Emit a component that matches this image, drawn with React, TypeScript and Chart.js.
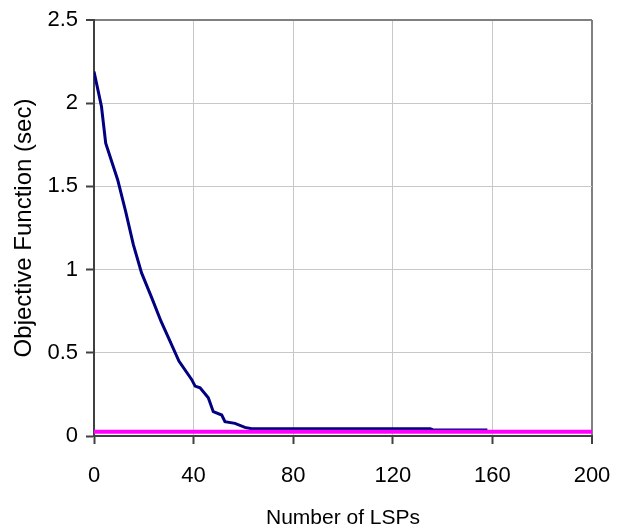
import React, { useEffect, useRef } from "react";
import { Chart, registerables } from "chart.js";

Chart.register(...registerables);

const objectiveX = [0, 3, 4.7, 9.5, 12.7, 15.8, 19.1, 23.2, 26.9, 30.2, 34.1, 39.2, 40.6, 42.6, 45.9, 47.9, 51.3, 52.6, 56.6, 60.6, 63.3, 135, 136, 158];
const objectiveY = [2.19, 1.98, 1.76, 1.54, 1.35, 1.15, 0.98, 0.83, 0.69, 0.58, 0.45, 0.34, 0.3, 0.29, 0.23, 0.146, 0.126, 0.086, 0.076, 0.052, 0.044, 0.044, 0.038, 0.036];
const baselineX = [0, 200];
const baselineY = [0.026, 0.026];
const xTicks = [0, 40, 80, 120, 160, 200];
const yTicks = [0, 0.5, 1, 1.5, 2, 2.5];
const xTitle = "Number of LSPs";
const yTitle = "Objective Function (sec)";

export default function App() {
  const ref = useRef<HTMLCanvasElement | null>(null);
  useEffect(() => {
    document.body.style.margin = "0";
    const ctx = ref.current!;
    const font = "Arial, 'Liberation Sans', sans-serif";
    const chart = new Chart(ctx, {
      type: "line",
      data: {
        datasets: [
          {
            label: "baseline",
            data: baselineX.map((x, i) => ({ x, y: baselineY[i] })),
            borderColor: "#ff00ff",
            borderWidth: 4,
            pointRadius: 0,
            tension: 0,
            order: 0,
          },
          {
            label: "objective",
            data: objectiveX.map((x, i) => ({ x, y: objectiveY[i] })),
            borderColor: "#000080",
            borderWidth: 3,
            pointRadius: 0,
            tension: 0,
            order: 1,
          },
        ],
      },
      options: {
        animation: false,
        responsive: false,
        maintainAspectRatio: false,
        layout: { padding: { left: 0, right: 34, top: 20, bottom: 0 } },
        plugins: { legend: { display: false }, tooltip: { enabled: false } },
        scales: {
          x: {
            type: "linear",
            min: 0,
            max: 200,
            afterBuildTicks: (s: any) => {
              s.ticks = xTicks.map((v) => ({ value: v }));
            },
            afterFit: (s: any) => {
              s.height = 95;
              s.paddingLeft = 0;
              s.paddingRight = 0;
            },
            ticks: {
              color: "#000",
              font: { family: font, size: 22 },
              padding: 19,
              maxRotation: 0,
            },
            grid: {
              color: (c: any) => (c.tick && c.tick.value === 200 ? "#808080" : "#c8c8c8"),
              lineWidth: (c: any) => (c.tick && c.tick.value === 200 ? 2 : 1),
              tickColor: "#404040",
              tickLength: 8,
              tickWidth: 2,
            },
            border: { color: "#404040", width: 2 },
            title: {
              display: true,
              text: xTitle,
              color: "#000",
              font: { family: font, size: 21 },
              padding: { top: 0, bottom: 0 },
            },
          },
          y: {
            type: "linear",
            min: 0,
            max: 2.5,
            afterBuildTicks: (s: any) => {
              s.ticks = yTicks.map((v) => ({ value: v }));
            },
            afterFit: (s: any) => {
              s.width = 94;
              s.paddingTop = 0;
              s.paddingBottom = 0;
            },
            ticks: {
              color: "#000",
              font: { family: font, size: 22 },
              padding: 8,
              callback: (v: any) => String(v),
            },
            grid: {
              color: (c: any) => (c.tick && c.tick.value === 2.5 ? "#808080" : "#c8c8c8"),
              lineWidth: (c: any) => (c.tick && c.tick.value === 2.5 ? 2 : 1),
              tickColor: "#404040",
              tickLength: 8,
              tickWidth: 2,
            },
            border: { color: "#404040", width: 2 },
            title: {
              display: true,
              text: yTitle,
              color: "#000",
              font: { family: font, size: 24 },
              padding: { top: 10, bottom: 0 },
            },
          },
        },
      },
    } as any);
    return () => chart.destroy();
  }, []);
  return (
    <div style={{ width: 626, height: 531 }}>
      <canvas ref={ref} width={626} height={531} style={{ display: "block", width: 626, height: 531 }} />
    </div>
  );
}
